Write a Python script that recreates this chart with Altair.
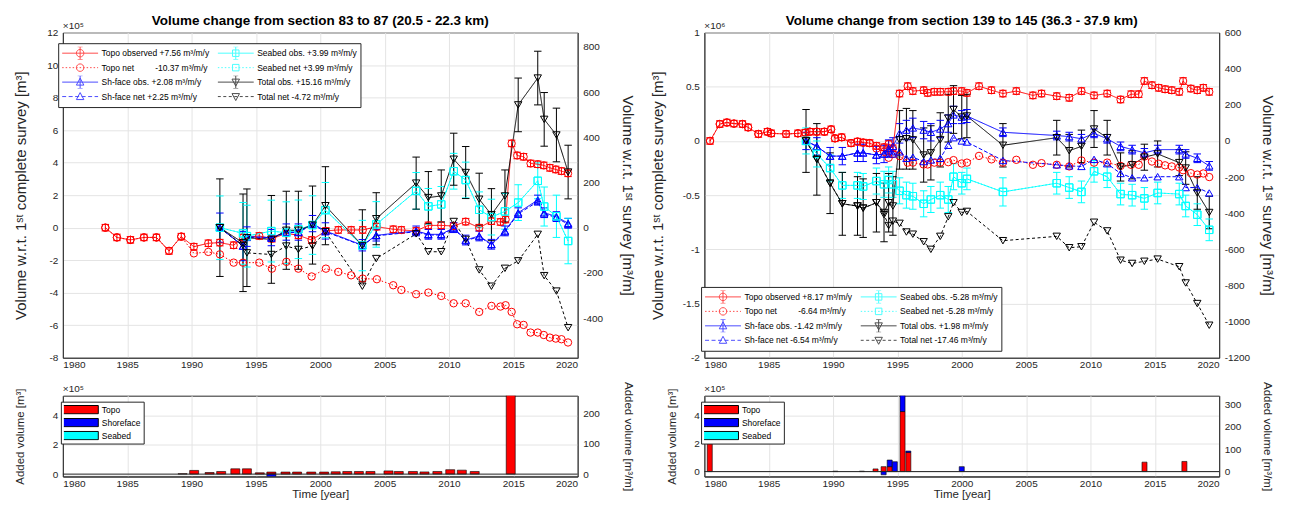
import altair as alt
import pandas as pd

FONT = "Liberation Sans"
RED, BLUE, CYAN, BLACK = "#ff0000", "#0000ff", "#00ffff", "#000000"
AX = "#262626"
YEARS = [1980, 1985, 1990, 1995, 2000, 2005, 2010, 2015, 2020]
MINUS = "replace(datum.label, '\u2212', '-')"

# ---------------- Left panel: sections 83-87 (values in 1e5 m3) ----------------
A_TOPO_YEAR = [1983.3, 1984.2, 1985.25, 1986.3, 1987.27, 1988.25, 1989.2, 1990.18, 1991.3, 1992.2,
               1993.27, 1994.0, 1995.26, 1996.24, 1997.37, 1998.3, 1999.33, 2000.44, 2001.4, 2002.4,
               2003.3, 2004.4, 2005.67, 2006.3, 2007.45, 2008.4, 2009.4, 2010.36, 2011.3, 2012.35,
               2013.3, 2014.0, 2014.4, 2014.87, 2015.3, 2015.8, 2016.34, 2016.9, 2017.37, 2017.84,
               2018.3, 2018.74, 2019.25]
A_TOPO_OBS = [0.0, -0.6, -0.75, -0.6, -0.6, -1.43, -0.55, -1.17, -0.96, -0.92,
              -1.08, -0.6, -0.51, -0.68, -0.35, -0.47, -0.76, -0.2, -0.14, -0.14,
              -0.14, 0.06, -0.1, -0.14, -0.2, 0.14, 0.14, 0.1, 0.37, 0.0,
              0.4, 0.35, 0.5, 5.18, 4.44, 4.36, 3.95, 3.9, 3.83, 3.68,
              3.58, 3.48, 3.34]
A_TOPO_NET = [0.0, -0.6, -0.75, -0.6, -0.6, -1.43, -0.55, -1.58, -1.49, -1.64,
              -2.15, -2.15, -2.15, -2.52, -2.1, -2.52, -3.0, -2.52, -2.72, -2.93,
              -3.13, -3.17, -3.54, -3.83, -4.09, -3.99, -4.2, -4.65, -4.65, -5.18,
              -4.81, -4.85, -4.77, -5.18, -5.94, -5.98, -6.45, -6.45, -6.6, -6.76,
              -6.82, -6.86, -7.06]
A_TOPO_ERR = [0.2, 0.2, 0.2, 0.2, 0.2, 0.2, 0.2, 0.2, 0.2, 0.2,
              0.2, 0.2, 0.2, 0.2, 0.2, 0.2, 0.2, 0.2, 0.2, 0.2,
              0.2, 0.2, 0.2, 0.2, 0.2, 0.2, 0.2, 0.2, 0.2, 0.2,
              0.2, 0.2, 0.2, 0.2, 0.2, 0.2, 0.2, 0.2, 0.2, 0.2,
              0.2, 0.2, 0.2]
A_YEAR = [1992.2, 1994.0, 1994.3, 1996.2, 1997.36, 1998.3, 1999.4, 2000.4, 2003.27, 2004.35,
          2007.45, 2008.4, 2009.4, 2010.37, 2011.3, 2012.35, 2013.3, 2014.35, 2015.38, 2016.9,
          2017.4, 2018.35, 2019.26]
A_SH_OBS = [0.0, -1.13, -0.55, -0.61, -0.27, -0.27, 0.25, -0.2, -1.08, -0.47,
            -0.2, -0.41, -0.41, 0.0, -0.76, -0.51, -1.02, -0.2, 0.92, 1.7,
            0.92, 0.68, 0.27]
A_SH_NET = [0.0, -1.13, -0.6, -0.65, -0.3, -0.3, 0.2, -0.25, -1.1, -0.5,
            -0.25, -0.45, -0.45, -0.05, -0.8, -0.55, -1.05, -0.25, 0.85, 1.6,
            0.85, 0.62, 0.2]
A_SH_ERR = [0.9, 0.9, 0.6, 0.5, 0.5, 0.5, 0.5, 0.5, 0.35, 0.35,
            0.3, 0.3, 0.3, 0.3, 0.3, 0.3, 0.3, 0.3, 0.3, 0.3,
            0.3, 0.3, 0.3]
A_SB_OBS = [0.0, -0.35, -0.52, -0.21, -0.31, -0.1, 0.16, 1.08, -1.1, 0.2,
            2.26, 1.31, 1.43, 3.47, 2.93, 1.1, 0.65, 1.0, 1.54, 2.88,
            1.3, 0.7, -0.82]
A_SB_NET = [0.0, -0.35, -0.52, -0.21, -0.31, -0.1, 0.16, 1.08, -1.1, 0.2,
            2.26, 1.31, 1.43, 3.47, 2.93, 1.1, 0.65, 1.0, 1.54, 2.88,
            1.3, 0.7, -0.82]
A_SB_ERR = [1.95, 1.9, 1.9, 1.9, 1.9, 1.8, 1.8, 1.7, 1.55, 1.4,
            1.13, 1.1, 1.1, 1.1, 1.1, 1.1, 1.1, 1.1, 1.1, 1.1,
            1.2, 1.3, 1.4]
A_TOT_OBS = [0.0, -0.93, -0.62, -0.72, -0.16, -0.16, 0.16, 1.35, -1.1, 0.55,
             2.74, 1.85, 1.95, 4.21, 3.39, 1.75, 0.8, 1.95, 7.55, 9.2,
             6.66, 5.7, 3.42]
A_TOT_NET = [0.0, -1.1, -1.55, -1.65, -1.13, -1.34, -1.13, -0.25, -3.6, -1.9,
             -0.38, -1.48, -1.48, 0.38, -0.72, -2.6, -3.6, -2.5, -2.04, -0.41,
             -2.95, -3.9, -6.15]
A_TOT_ERR = [3.0, 3.0, 3.0, 2.7, 2.4, 2.4, 2.4, 2.4, 2.2, 1.6,
             1.6, 1.6, 1.6, 1.6, 1.6, 1.6, 1.6, 1.6, 1.65, 1.65,
             1.65, 1.65, 1.65]

# ---------------- Right panel: sections 139-145 (values in 1e6 m3) ----------------
B_TOPO_YEAR = [1980.44, 1981.2, 1981.75, 1982.3, 1982.96, 1983.4, 1984.2, 1984.9, 1985.2, 1986.35,
               1987.27, 1987.84, 1988.2, 1988.74, 1989.33, 1989.85, 1990.15, 1990.67, 1991.4, 1991.9,
               1992.34, 1992.85, 1993.37, 1993.96, 1994.32, 1994.65, 1995.17, 1995.8, 1996.2, 1997.04,
               1997.35, 1997.87, 1998.33, 1998.95, 1999.36, 2000.0, 2000.4, 2001.34, 2002.31, 2003.2,
               2004.24, 2005.53, 2006.2, 2007.38, 2008.35, 2009.3, 2010.28, 2011.3, 2012.34, 2013.16,
               2013.75, 2014.19, 2014.78, 2015.3, 2015.8, 2016.32, 2016.9, 2017.2, 2017.8, 2018.3,
               2018.77, 2019.23]
B_TOPO_OBS = [0.0, 0.156, 0.17, 0.16, 0.156, 0.125, 0.064, 0.085, 0.07, 0.064,
              0.07, 0.076, 0.085, 0.085, 0.085, 0.107, 0.024, 0.034, -0.02, -0.006,
              -0.015, -0.02, -0.046, -0.058, -0.028, -0.067, 0.437, 0.505, 0.46, 0.468,
              0.443, 0.453, 0.453, 0.453, 0.46, 0.46, 0.443, 0.505, 0.468, 0.437,
              0.46, 0.42, 0.437, 0.413, 0.398, 0.46, 0.42, 0.437, 0.382, 0.431,
              0.431, 0.553, 0.514, 0.49, 0.477, 0.468, 0.453, 0.553, 0.483, 0.468,
              0.49, 0.453]
B_TOPO_NET = [0.0, 0.156, 0.17, 0.16, 0.156, 0.125, 0.064, 0.085, 0.07, 0.064,
              0.07, 0.076, 0.085, 0.085, 0.085, 0.107, 0.024, 0.034, -0.02, -0.006,
              -0.015, -0.02, -0.07, -0.1, -0.155, -0.12, -0.14, -0.2, -0.2, -0.217,
              -0.217, -0.2, -0.2, -0.196, -0.177, -0.208, -0.2, -0.138, -0.17, -0.2,
              -0.174, -0.22, -0.205, -0.22, -0.235, -0.18, -0.2, -0.2, -0.23, -0.22,
              -0.22, -0.144, -0.19, -0.21, -0.225, -0.235, -0.245, -0.27, -0.297, -0.31,
              -0.3, -0.333]
B_TOPO_ERR = [0.03, 0.03, 0.03, 0.03, 0.03, 0.03, 0.03, 0.03, 0.03, 0.03,
              0.03, 0.03, 0.03, 0.03, 0.03, 0.03, 0.03, 0.03, 0.03, 0.03,
              0.03, 0.03, 0.03, 0.03, 0.03, 0.03, 0.03, 0.03, 0.03, 0.03,
              0.03, 0.03, 0.03, 0.03, 0.03, 0.03, 0.03, 0.03, 0.03, 0.03,
              0.03, 0.03, 0.03, 0.03, 0.03, 0.03, 0.03, 0.03, 0.03, 0.03,
              0.03, 0.03, 0.03, 0.03, 0.03, 0.03, 0.03, 0.03, 0.03, 0.03,
              0.03, 0.03]
B_YEAR = [1987.9, 1988.74, 1989.77, 1990.72, 1991.9, 1992.34, 1993.37, 1993.96, 1994.32, 1994.65,
          1995.17, 1995.7, 1996.2, 1997.04, 1997.6, 1998.33, 1998.95, 1999.36, 2000.0, 2000.4,
          2003.2, 2007.38, 2008.35, 2009.3, 2010.28, 2011.3, 2012.34, 2013.24, 2014.19, 2015.22,
          2016.9, 2017.4, 2018.3, 2019.23]
B_SH_OBS = [0.0, -0.05, -0.14, -0.14, -0.11, -0.11, -0.13, -0.12, -0.07, -0.05,
            0.07, 0.10, 0.12, 0.10, 0.08, 0.11, 0.16, 0.24, 0.22, 0.23,
            0.08, 0.05, 0.04, 0.02, 0.07, 0.02, -0.05, -0.08, -0.11, -0.08,
            -0.08, -0.12, -0.16, -0.23]
B_SH_NET = [0.0, -0.05, -0.14, -0.14, -0.11, -0.11, -0.13, -0.12, -0.09, -0.12,
            -0.10, -0.16, -0.15, -0.19, -0.175, -0.16, -0.04, 0.03, 0.0, -0.01,
            -0.18, -0.22, -0.23, -0.235, -0.17, -0.21, -0.30, -0.34, -0.34, -0.33,
            -0.33, -0.43, -0.43, -0.48]
B_SH_ERR = [0.08, 0.08, 0.08, 0.08, 0.08, 0.08, 0.08, 0.08, 0.08, 0.08,
            0.09, 0.09, 0.09, 0.08, 0.08, 0.08, 0.08, 0.08, 0.06, 0.06,
            0.04, 0.04, 0.04, 0.04, 0.04, 0.04, 0.04, 0.04, 0.04, 0.04,
            0.04, 0.04, 0.04, 0.04]
B_SB_OBS = [0.0, -0.12, -0.25, -0.41, -0.41, -0.42, -0.37, -0.40, -0.36, -0.40,
            -0.46, -0.50, -0.51, -0.58, -0.54, -0.50, -0.54, -0.33, -0.39, -0.35,
            -0.47, -0.39, -0.43, -0.47, -0.28, -0.33, -0.49, -0.50, -0.53, -0.48,
            -0.49, -0.60, -0.68, -0.82]
B_SB_NET = [0.0, -0.12, -0.25, -0.41, -0.41, -0.42, -0.37, -0.40, -0.36, -0.40,
            -0.46, -0.50, -0.51, -0.58, -0.54, -0.50, -0.54, -0.33, -0.39, -0.35,
            -0.47, -0.39, -0.43, -0.47, -0.28, -0.33, -0.49, -0.50, -0.53, -0.48,
            -0.49, -0.60, -0.68, -0.82]
B_SB_ERR = [0.12, 0.12, 0.12, 0.12, 0.12, 0.12, 0.12, 0.12, 0.12, 0.12,
            0.12, 0.12, 0.12, 0.12, 0.12, 0.12, 0.12, 0.12, 0.1, 0.1,
            0.13, 0.1, 0.1, 0.1, 0.1, 0.1, 0.1, 0.1, 0.1, 0.1,
            0.1, 0.1, 0.1, 0.1]
B_TOT_OBS = [0.0, -0.17, -0.39, -0.58, -0.60, -0.62, -0.57, -0.66, -0.57, -0.60,
             0.01, 0.02, 0.01, -0.13, -0.11, 0.01, 0.21, 0.29, 0.22, 0.23,
             -0.04, 0.03, -0.09, -0.05, 0.11, 0.03, -0.24, -0.22, -0.15, -0.12,
             -0.20, -0.25, -0.48, -0.66]
B_TOT_NET = [0.0, -0.17, -0.39, -0.58, -0.60, -0.62, -0.57, -0.68, -0.78, -0.74,
             -0.76, -0.84, -0.86, -0.93, -1.0, -0.88, -0.70, -0.57, -0.66, -0.65,
             -0.92, -0.88, -0.985, -0.976, -0.75, -0.83, -1.10, -1.13, -1.11, -1.09,
             -1.16, -1.31, -1.50, -1.70]
B_TOT_ERR = [0.29, 0.33, 0.28, 0.29, 0.27, 0.27, 0.27, 0.27, 0.27, 0.27,
             0.27, 0.28, 0.27, 0.25, 0.25, 0.25, 0.22, 0.22, 0.2, 0.2,
             0.2, 0.16, 0.15, 0.15, 0.17, 0.16, 0.13, 0.13, 0.12, 0.12,
             0.12, 0.15, 0.15, 0.15]

# ---------------- Added volumes (1e5 m3) ----------------
A_BAR_YEAR = [1989.3, 1990.2, 1991.4, 1992.3, 1993.4, 1994.3, 1995.3, 1996.2, 1997.3, 1998.2,
              1999.3, 2000.3, 2001.2, 2002.1, 2003.0, 2003.9, 2005.3, 2006.1, 2007.2, 2008.1,
              2009.1, 2010.1, 2011.0, 2012.0, 2014.8]
A_BAR_TOPO = [0.03, 0.25, 0.11, 0.18, 0.36, 0.36, 0.09, 0.14, 0.14, 0.14,
              0.14, 0.14, 0.16, 0.18, 0.18, 0.18, 0.22, 0.18, 0.18, 0.15,
              0.18, 0.3, 0.27, 0.18, 6.0]
A_BAR_SHORE = [0, 0, 0, 0, 0, 0, 0, -0.16, 0, 0,
               0, 0, 0, 0, 0, 0, 0, 0, 0, 0,
               0, 0, 0, 0, 0]
B_BAR_YEAR = [1980.42, 1990.18, 1992.24, 1993.3, 1993.93, 1994.4, 1994.8, 1995.4, 1995.85, 2000.0,
              2014.2, 2017.3]
B_BAR_TOPO = [2.6, 0.03, 0.03, 0.19, 0.35, 0.35, 0.0, 4.27, 1.36, 0.0, 0.67, 0.72]
B_BAR_SHORE = [0, 0, 0, 0, -0.23, 0.47, 0.7, 1.5, 0.1, 0.35, 0, 0]

COMPS = ["Topo", "Shoreface", "Seabed"]

LABELS_A = {
    "topo_obs": "Topo observed +7.56 m³/m/y",
    "topo_net": "Topo net" + "\u00a0" * 9 + "-10.37 m³/m/y",
    "sh_obs": "Sh-face obs. +2.08 m³/m/y",
    "sh_net": "Sh-face net +2.25 m³/m/y",
    "sb_obs": "Seabed obs. +3.99 m³/m/y",
    "sb_net": "Seabed net +3.99 m³/m/y",
    "tot_obs": "Total obs. +15.16 m³/m/y",
    "tot_net": "Total net -4.72 m³/m/y",
}
LABELS_B = {
    "topo_obs": "Topo observed +8.17 m³/m/y",
    "topo_net": "Topo net" + "\u00a0" * 9 + "-6.64 m³/m/y",
    "sh_obs": "Sh-face obs. -1.42 m³/m/y",
    "sh_net": "Sh-face net -6.54 m³/m/y",
    "sb_obs": "Seabed obs. -5.28 m³/m/y",
    "sb_net": "Seabed net -5.28 m³/m/y",
    "tot_obs": "Total obs. +1.98 m³/m/y",
    "tot_net": "Total net -17.46 m³/m/y",
}

# legend order (filled column by column, 2 columns)
SER_KEYS = ["topo_obs", "topo_net", "sh_obs", "sh_net", "sb_obs", "sb_net", "tot_obs", "tot_net"]
SER_COLORS = [RED, RED, BLUE, BLUE, CYAN, CYAN, BLACK, BLACK]
SER_SHAPES = ["circle", "circle", "triangle-up", "triangle-up", "square", "square",
              "triangle-down", "triangle-down"]
SER_DASH = [[1, 0], [1.5, 2], [1, 0], [4, 2], [1, 0], [1.5, 2], [1, 0], [3, 2.5]]
SER_LEG_STYLE = ["obs", "dot", "obs", "dash", "obs", "dot", "obs", "kdash"]


def seg(x0, x1, on=None, off=None):
    if on is None:
        return f"M{x0},0H{x1}"
    out, x = [], x0
    while x < x1:
        e = min(x + on, x1)
        out.append(f"M{x:.2f},0H{e:.2f}")
        x = e + off
    return "".join(out)


MK = {
    "circle": "M-0.75,0A0.75,0.75 0 1,0 0.75,0A0.75,0.75 0 1,0 -0.75,0",
    "square": "M-0.65,-0.65H0.65V0.65H-0.65Z",
    "triangle-up": "M0,-0.8L0.75,0.6H-0.75Z",
    "triangle-down": "M0,0.8L0.75,-0.6H-0.75Z",
}
EBAR = "M0,-1.3V1.3M-0.5,-1.3H0.5M-0.5,1.3H0.5"
LINE_STYLE = {"obs": (None, None), "dot": (0.3, 0.4), "dash": (0.8, 0.5), "kdash": (0.6, 0.5)}
PATHS = []
for shp, st in zip(SER_SHAPES, SER_LEG_STYLE):
    on, off = LINE_STYLE[st]
    p = seg(-3.6, 3.6, on, off) + MK[shp]
    if st == "obs":
        p += EBAR
    PATHS.append(p)
RECT_PATH = "M-3.6,-0.83H3.6V0.83H-3.6Z"


def build_series(labels, topo_year, topo_obs, topo_net, topo_err, year, sh_obs, sh_net, sh_err,
                 sb_obs, sb_net, sb_err, tot_obs, tot_net, tot_err):
    rows = []

    def add(key, yrs, vals, errs):
        for i, (yy, vv) in enumerate(zip(yrs, vals)):
            rows.append({"series": labels[key], "year": yy, "value": vv,
                         "err": errs[i] if errs is not None else 0.0})

    add("topo_obs", topo_year, topo_obs, topo_err)
    add("topo_net", topo_year, topo_net, None)
    add("sh_obs", year, sh_obs, sh_err)
    add("sh_net", year, sh_net, None)
    add("sb_obs", year, sb_obs, sb_err)
    add("sb_net", year, sb_net, None)
    add("tot_obs", year, tot_obs, tot_err)
    add("tot_net", year, tot_net, None)
    return pd.DataFrame(rows)


def build_bars(years, topo, shore):
    rows = []
    for yy, t, s in zip(years, topo, shore):
        if t != 0:
            rows.append({"year": yy, "comp": "Topo", "lo": 0.0, "hi": t})
        if s > 0:
            base = max(t, 0.0)
            rows.append({"year": yy, "comp": "Shoreface", "lo": base, "hi": base + s})
        elif s < 0:
            rows.append({"year": yy, "comp": "Shoreface", "lo": s, "hi": 0.0})
    return pd.DataFrame(rows)


def xenc(field, title=None):
    return alt.X(field, type="quantitative",
                 scale=alt.Scale(domain=[1980, 2020], nice=False, zero=False),
                 axis=alt.Axis(values=YEARS, format="d", title=title, labelPadding=2,
                               titlePadding=0, grid=True))


def top_panel(df, labels, ydom, yticks, yfmt, ytitle, ytp, rdom, rticks, rtitle, rtp,
              title, exp_txt, legx, legy):
    dom = [labels[k] for k in SER_KEYS]
    yaxis = alt.Axis(values=yticks, format=yfmt, labelExpr=MINUS, title=ytitle,
                     titlePadding=ytp, labelPadding=5, grid=True, titleFontSize=15)

    def Y(f):
        return alt.Y(f, type="quantitative", scale=alt.Scale(domain=ydom, nice=False, zero=False),
                     axis=yaxis)

    col = alt.Color("series:N", scale=alt.Scale(domain=dom, range=SER_COLORS), legend=None)
    base = alt.Chart(df)
    eb = base.transform_filter("datum.err > 0").transform_calculate(
        lo="datum.value - datum.err", hi="datum.value + datum.err")
    rules = eb.mark_rule(strokeWidth=1, clip=True).encode(
        x=xenc("year"), y=Y("lo"), y2=alt.Y2("hi"), color=col)
    caps = eb.transform_fold(["lo", "hi"], as_=["end", "ev"]).mark_point(
        shape="stroke", size=56, filled=False, strokeWidth=1, opacity=1, clip=True).encode(
        x=xenc("year"), y=Y("ev"), color=col)
    lines = base.mark_line(strokeWidth=1, clip=True).encode(
        x=xenc("year"), y=Y("value"), color=col,
        strokeDash=alt.StrokeDash("series:N", scale=alt.Scale(domain=dom, range=SER_DASH),
                                  legend=None))
    pts = base.mark_point(filled=False, strokeWidth=1, size=55, opacity=1, clip=True).encode(
        x=xenc("year"), y=Y("value"), color=col,
        shape=alt.Shape("series:N", scale=alt.Scale(domain=dom, range=SER_SHAPES), legend=None))
    txt = alt.Chart(pd.DataFrame({"t": [exp_txt]})).mark_text(
        align="left", baseline="bottom", fontSize=10, font=FONT, color=AX).encode(
        text="t:N", x=alt.value(0), y=alt.value(-2))
    main = alt.layer(rules, caps, lines, pts, txt)

    right = base.transform_filter("false").mark_point().encode(
        y=alt.Y("value:Q", scale=alt.Scale(domain=rdom, nice=False, zero=False),
                axis=alt.Axis(orient="right", values=rticks, format="d", labelExpr=MINUS,
                              title=rtitle, titlePadding=rtp, labelPadding=5, grid=False,
                              titleFontSize=15)))

    leg = alt.Legend(orient="none", legendX=legx, legendY=legy, columns=2, title=None,
                     symbolSize=100, symbolOffset=13, labelOffset=16, symbolStrokeWidth=1,
                     labelFont=FONT, labelFontSize=8.5, labelColor="#000000", labelLimit=300,
                     columnPadding=8, rowPadding=1.5, clipHeight=13, padding=3.5,
                     fillColor="white", strokeColor=AX)
    legl = base.transform_filter("false").mark_point(filled=False, strokeWidth=1).encode(
        color=alt.Color("series:N", scale=alt.Scale(domain=dom, range=SER_COLORS), legend=leg),
        shape=alt.Shape("series:N", scale=alt.Scale(domain=dom, range=PATHS), legend=leg))

    return alt.layer(main, right, legl).resolve_scale(
        y="independent", color="independent", shape="independent").properties(
        width=516, height=326,
        title=alt.TitleParams(title, fontSize=13.5, fontWeight="bold", font=FONT,
                              color="#000000", anchor="middle", offset=-7, frame="group"))


def bottom_panel(dfb, barw, ydom, yticks, ytp, rdom, rticks, rtp, legx, legy):
    yaxis = alt.Axis(values=yticks, format="d", labelExpr=MINUS, title="Added volume [m³]",
                     titlePadding=ytp, labelPadding=5, grid=True)

    def Y(f):
        return alt.Y(f, type="quantitative", scale=alt.Scale(domain=ydom, nice=False, zero=False),
                     axis=yaxis)

    leg = alt.Legend(orient="none", legendX=legx, legendY=legy, title=None,
                     symbolType=RECT_PATH, symbolSize=100, symbolOffset=11, labelOffset=16,
                     symbolStrokeColor="black", symbolStrokeWidth=1,
                     labelFont=FONT, labelFontSize=8.5, labelColor="#000000",
                     rowPadding=3, clipHeight=10, padding=3, fillColor="white", strokeColor=AX)
    bars = alt.Chart(dfb).transform_calculate(
        x0=f"datum.year - {barw / 2}", x1=f"datum.year + {barw / 2}").mark_bar(
        stroke="black", strokeWidth=0.6, clip=True, opacity=1).encode(
        x=xenc("x0", "Time [year]"), x2=alt.X2("x1"), y=Y("lo"), y2=alt.Y2("hi"),
        color=alt.Color("comp:N", scale=alt.Scale(domain=COMPS, range=[RED, BLUE, CYAN]),
                        legend=leg))
    zero = alt.Chart(pd.DataFrame({"z": [0.0]})).mark_rule(color=AX, strokeWidth=1).encode(
        y=Y("z"))
    txt = alt.Chart(pd.DataFrame({"t": ["×10⁵"]})).mark_text(
        align="left", baseline="bottom", fontSize=10, font=FONT, color=AX).encode(
        text="t:N", x=alt.value(0), y=alt.value(-2))
    main = alt.layer(bars, zero, txt)
    right = alt.Chart(dfb).transform_filter("false").mark_point().encode(
        y=alt.Y("lo:Q", scale=alt.Scale(domain=rdom, nice=False, zero=False),
                axis=alt.Axis(orient="right", values=rticks, format="d",
                              title="Added volume [m³/m]",
                              titlePadding=rtp, labelPadding=5, grid=False)))
    return alt.layer(main, right).resolve_scale(y="independent").properties(width=516, height=81)


dfA = build_series(LABELS_A, A_TOPO_YEAR, A_TOPO_OBS, A_TOPO_NET, A_TOPO_ERR, A_YEAR,
                   A_SH_OBS, A_SH_NET, A_SH_ERR, A_SB_OBS, A_SB_NET, A_SB_ERR,
                   A_TOT_OBS, A_TOT_NET, A_TOT_ERR)
dfB = build_series(LABELS_B, B_TOPO_YEAR, B_TOPO_OBS, B_TOPO_NET, B_TOPO_ERR, B_YEAR,
                   B_SH_OBS, B_SH_NET, B_SH_ERR, B_SB_OBS, B_SB_NET, B_SB_ERR,
                   B_TOT_OBS, B_TOT_NET, B_TOT_ERR)

topL = top_panel(dfA, LABELS_A, [-8, 12], list(range(-8, 13, 2)), "d",
                 "Volume w.r.t. 1ˢᵗ complete survey [m³]", 18.25,
                 [-575, 863], [-400, -200, 0, 200, 400, 600, 800],
                 "Volume w.r.t. 1ˢᵗ survey [m³/m]", 17.25,
                 "Volume change from section 83 to 87 (20.5 - 22.3 km)", "×10⁵", -4.7, 10.7)
topR = top_panel(dfB, LABELS_B, [-2, 1], [-2, -1.5, -1, -0.5, 0, 0.5, 1], "~g",
                 "Volume w.r.t. 1ˢᵗ complete survey [m³]", 16.25,
                 [-1200, 600], [-1200, -1000, -800, -600, -400, -200, 0, 200, 400, 600],
                 "Volume w.r.t. 1ˢᵗ survey [m³/m]", 10.25,
                 "Volume change from section 139 to 145 (36.3 - 37.9 km)", "×10⁶", -3.3, 255)

botL = bottom_panel(build_bars(A_BAR_YEAR, A_BAR_TOPO, A_BAR_SHORE), 0.7,
                    [-0.16, 5.32], [0, 2, 4], 27, [-7.7, 259], [0, 100, 200], 23, -2, 6)
botR = bottom_panel(build_bars(B_BAR_YEAR, B_BAR_TOPO, B_BAR_SHORE), 0.39,
                    [-0.35, 5.4], [0, 2, 4], 16, [-22, 339], [0, 100, 200, 300], 21, -3.3, 6)

chart = alt.concat(
    topL, topR, botL, botR, columns=2,
    spacing=alt.RowColnumber(column=127, row=38), bounds="flush",
).resolve_scale(
    color="independent", shape="independent", strokeDash="independent"
).properties(padding=5).configure(font=FONT).configure_view(
    stroke=AX, strokeWidth=1
).configure_axis(
    labelFont=FONT, titleFont=FONT, labelFontSize=10, titleFontSize=11.5,
    labelColor=AX, titleColor=AX, titleFontWeight="normal", domainColor=AX,
    ticks=False, tickSize=0, gridColor="#e4e4e4", gridWidth=1
)

chart.save("out.html", embed_options={"renderer": "svg", "actions": False})
